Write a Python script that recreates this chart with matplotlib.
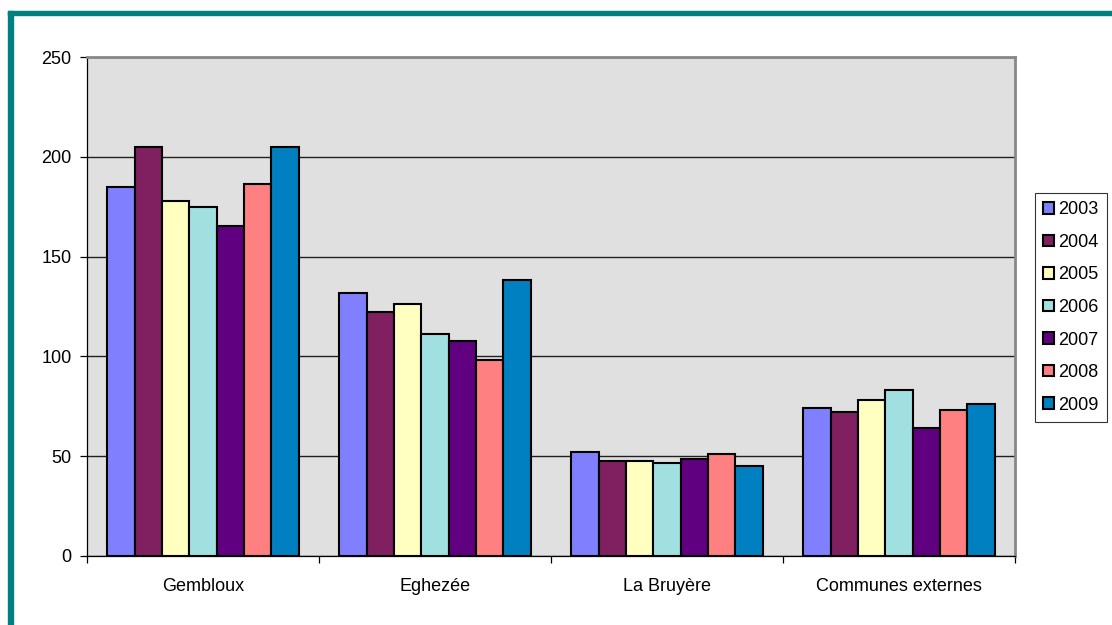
import numpy as np
import matplotlib.pyplot as plt
from matplotlib.patches import Rectangle

# données
communes = ['Gembloux', 'Eghezée', 'La Bruyère', 'Communes externes']
annees = ['2003', '2004', '2005', '2006', '2007', '2008', '2009']
v2003 = [185, 132, 52, 74]
v2004 = [205, 122, 47.5, 72]
v2005 = [178, 126.5, 47.5, 78]
v2006 = [175, 111, 46.5, 83]
v2007 = [165.5, 107.5, 48.5, 64]
v2008 = [186.5, 98, 51, 73]
v2009 = [205, 138.5, 45, 76]
series = [v2003, v2004, v2005, v2006, v2007, v2008, v2009]
couleurs = ['#8080FF', '#802060', '#FFFFC0', '#A0E0E0', '#600080', '#FF8080', '#0080C0']

plt.rcParams['font.family'] = ['Liberation Sans', 'DejaVu Sans']

fig = plt.figure(figsize=(11.12, 6.25), dpi=100)
# cadre bleu-vert (haut et gauche)
fig.patches.append(Rectangle((8 / 1112, 0), 5 / 1112, 1 - 11 / 625, transform=fig.transFigure,
                             color='#008080', zorder=0))
fig.patches.append(Rectangle((8 / 1112, 1 - 15 / 625), 1 - 8 / 1112, 4 / 625, transform=fig.transFigure,
                             color='#008080', zorder=0))

ax = fig.add_axes([87 / 1112, 1 - 556 / 625, 928 / 1112, 499 / 625])
ax.set_facecolor('#E0E0E0')

x = np.arange(len(communes))
largeur = 1 / 8.5
for i, vals in enumerate(series):
    pos = x + (i - 3) * largeur
    ax.bar(pos, vals, largeur, color=couleurs[i], edgecolor='black', linewidth=1.5,
           label=annees[i], zorder=3)

ax.set_xlim(-0.5, 3.5)
ax.set_ylim(0, 250)
ax.set_yticks(np.arange(0, 251, 50))
ax.yaxis.grid(True, color='#202020', linewidth=1.0, zorder=1)
ax.set_xticks(x)
ax.set_xticklabels(communes)
ax.set_xticks(np.arange(-0.5, 4, 1), minor=True)
ax.tick_params(axis='x', which='major', length=0, pad=16, labelsize=13)
ax.tick_params(axis='x', which='minor', length=5, direction='out', width=0.9)
ax.tick_params(axis='y', length=5, width=0.9, pad=6, labelsize=13)

for s in ['top', 'right']:
    ax.spines[s].set_color('#888888')
    ax.spines[s].set_linewidth(2)
for s in ['left', 'bottom']:
    ax.spines[s].set_color('black')
    ax.spines[s].set_linewidth(0.9)

leg = ax.legend(loc='center left', bbox_to_anchor=(1.0216, 0.498),
                fontsize=13, frameon=True, fancybox=False, edgecolor='black',
                handlelength=0.6, handleheight=0.6, handletextpad=0.25,
                labelspacing=0.86, borderpad=0.45, borderaxespad=0)
leg.get_frame().set_linewidth(0.8)

plt.savefig('out.png', dpi=100)
